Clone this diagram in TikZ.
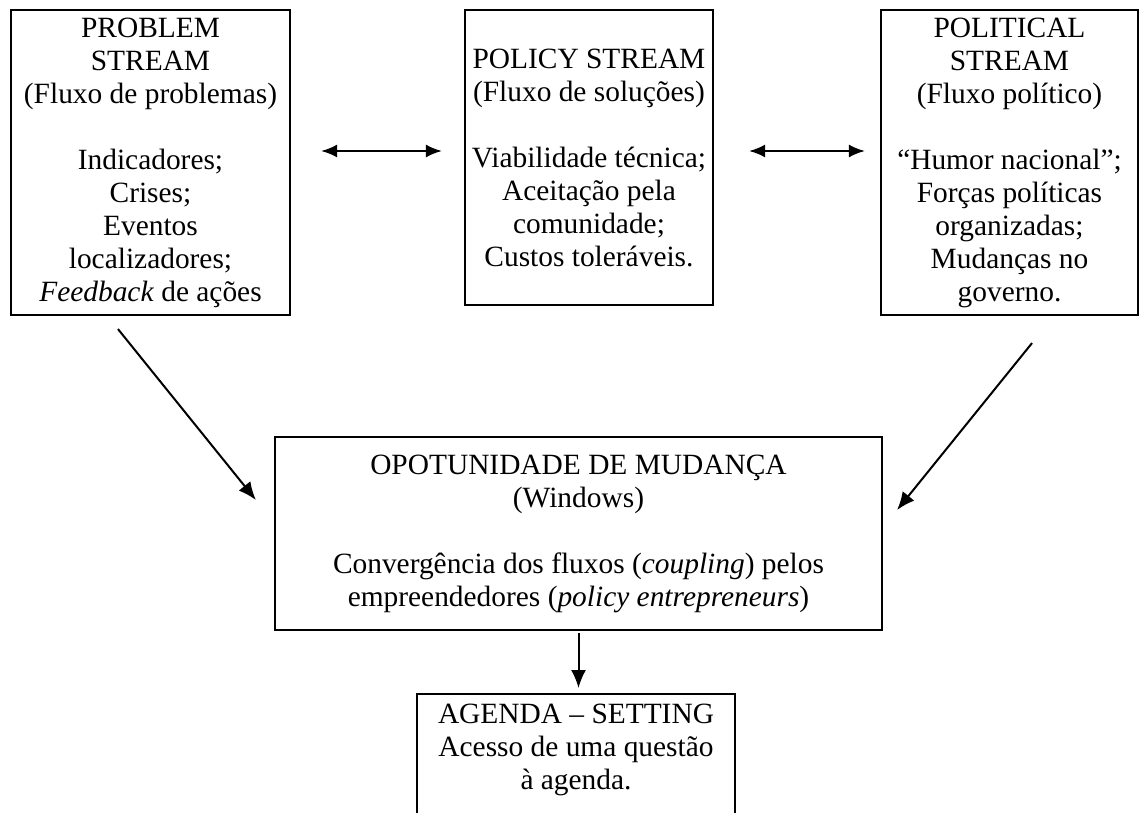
\documentclass[tikz,border=0pt]{standalone}
\usepackage{fontspec}
\setmainfont{Liberation Serif}
\usetikzlibrary{arrows.meta}
\begin{document}
\begin{tikzpicture}[x=1pt,y=-1pt,
  txt/.style={inner sep=0pt, align=center, font=\fontsize{29.4}{33}\selectfont},
  box/.style={txt, draw, line width=2.2pt},
  arr/.style={line width=2pt, -{Latex[length=18pt,width=15pt]}},
  darr/.style={line width=2pt, {Latex[length=16pt,width=13pt]}-{Latex[length=16pt,width=13pt]}}]
\clip (0,0) rectangle (1141,813);
\useasboundingbox (0,0) rectangle (1141,813);

\node[box, minimum width=279pt, minimum height=305pt] (prob) at (150.5,162.5)
  {PROBLEM\\STREAM\\(Fluxo de problemas)\\[33pt]Indicadores;\\Crises;\\Eventos\\localizadores;\\\textit{Feedback} de ações};

\node[box, minimum width=248pt, minimum height=295pt] (pol) at (589,157.5)
  {POLICY STREAM\\(Fluxo de soluções)\\[33pt]Viabilidade técnica;\\Aceitação pela\\comunidade;\\Custos toleráveis.};

\node[box, minimum width=257pt, minimum height=305pt] (polit) at (1009.5,162.5)
  {POLITICAL\\STREAM\\(Fluxo político)\\[33pt]“Humor nacional”;\\Forças políticas\\organizadas;\\Mudanças no\\governo.};

\node[box, minimum width=607pt, minimum height=193pt] (opp) at (578.5,533.5)
  {OPOTUNIDADE DE MUDANÇA\\(Windows)\\[33pt]Convergência dos fluxos (\textit{coupling}) pelos\\empreendedores (\textit{policy entrepreneurs})};

\node[draw, line width=2.2pt, inner sep=0pt, minimum width=318pt, minimum height=160pt, anchor=north] (agenda) at (576,693) {};
\node[txt] (agendatext) at (576,750) {AGENDA – SETTING\\Acesso de uma questão\\à agenda.};

\draw[darr] ([xshift=30pt,yshift=11.5pt]prob.east) -- ([xshift=-22pt,yshift=6.5pt]pol.west);
\draw[darr] ([xshift=35pt,yshift=6.5pt]pol.east) -- ([xshift=-15pt,yshift=11.5pt]polit.west);
\draw[arr] ([xshift=-32.5pt,yshift=-13pt]prob.south) -- ([xshift=-18pt,yshift=33.5pt]opp.west);
\draw[arr] ([xshift=22.5pt,yshift=-27pt]polit.south) -- ([xshift=14pt,yshift=23.5pt]opp.east);
\draw[arr] ([yshift=-2pt]opp.south) -- ([yshift=5pt]opp.south |- agenda.north);
\end{tikzpicture}
\end{document}
